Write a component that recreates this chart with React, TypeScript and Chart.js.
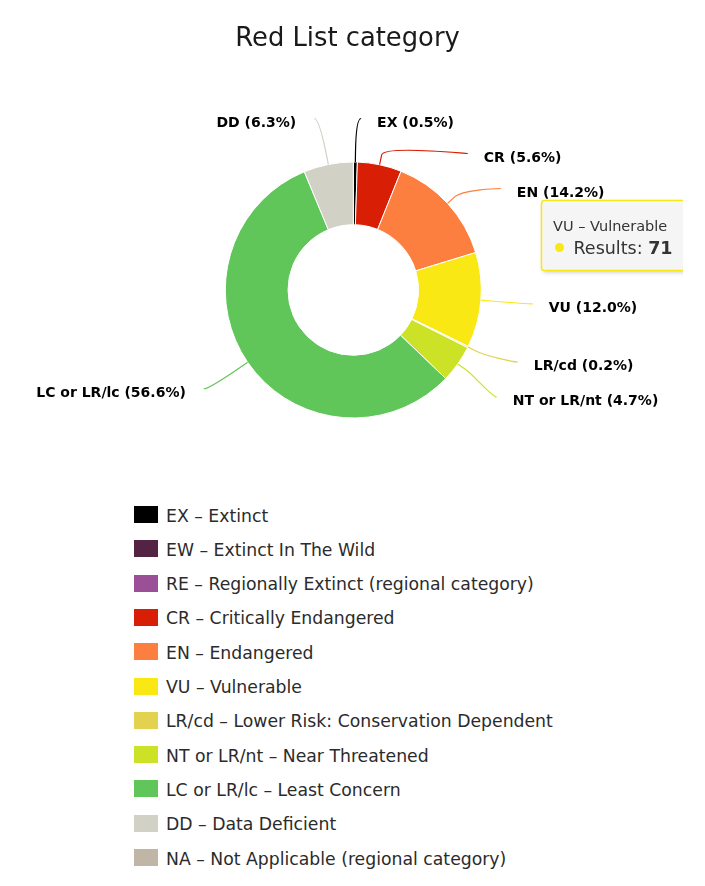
import React, { useEffect, useRef } from "react";
import { Chart, ArcElement, DoughnutController } from "chart.js";

Chart.register(ArcElement, DoughnutController);

const chartTitle = "Red List category";
const seriesName = "Results";
const categoryCodes = ["EX", "EW", "RE", "CR", "EN", "VU", "LR/cd", "NT or LR/nt", "LC or LR/lc", "DD", "NA"];
const categoryNames = [
  "Extinct",
  "Extinct In The Wild",
  "Regionally Extinct (regional category)",
  "Critically Endangered",
  "Endangered",
  "Vulnerable",
  "Lower Risk: Conservation Dependent",
  "Near Threatened",
  "Least Concern",
  "Data Deficient",
  "Not Applicable (regional category)",
];
const results = [3, 0, 0, 33, 84, 71, 1, 28, 335, 37, 0];
const categoryColors = ["#000000", "#542344", "#9b4f96", "#d81e05", "#fc7f3f", "#f9e814", "#e2d24f", "#cce226", "#60c659", "#d1d1c6", "#c1b5a5"];
const highlightedIndex = 5;

const FONT = "'DejaVu Sans', Verdana, sans-serif";
const LABEL_DISTANCE = 47;
const SLOT = 35;

type Box = { target: number; size: number; pos: number; idx: number; atEdge?: boolean };

function distribute(boxes: Box[], min: number, max: number) {
  let groups = boxes.map((b) => ({ boxes: [b], size: b.size, pos: b.target - b.size / 2 }));
  let overlapping = true;
  let guard = 0;
  while (overlapping && guard++ < 100) {
    groups.forEach((g) => {
      g.pos = Math.min(Math.max(min, g.pos), max - g.size);
    });
    overlapping = false;
    for (let i = groups.length - 1; i > 0; i--) {
      const prev = groups[i - 1];
      const cur = groups[i];
      if (prev.pos + prev.size > cur.pos + 0.001) {
        prev.boxes.push(...cur.boxes);
        prev.size += cur.size;
        const mean = prev.boxes.reduce((s, b) => s + b.target, 0) / prev.boxes.length;
        prev.pos = mean - prev.size / 2;
        groups.splice(i, 1);
        overlapping = true;
      }
    }
  }
  groups.forEach((g) => {
    let p = g.pos;
    g.boxes.forEach((b, k) => {
      b.pos = p + b.size / 2;
      b.atEdge = (k === 0 && Math.abs(g.pos - min) < 0.5) || (k === g.boxes.length - 1 && Math.abs(g.pos + g.size - max) < 0.5);
      p += b.size;
    });
  });
}

const titlePlugin = {
  id: "titleText",
  afterDraw(chart: any) {
    const ctx = chart.ctx;
    ctx.save();
    ctx.font = `25.8px ${FONT}`;
    ctx.fillStyle = "#1a1a1a";
    ctx.textAlign = "center";
    ctx.textBaseline = "alphabetic";
    ctx.fillText(chartTitle, chart.width / 2, 37.7);
    ctx.restore();
  },
};

const labelPlugin = {
  id: "pieLabels",
  afterDatasetsDraw(chart: any) {
    const meta = chart.getDatasetMeta(0);
    const ctx = chart.ctx;
    const data = chart.data.datasets[0].data as number[];
    const colors = chart.data.datasets[0].backgroundColor as string[];
    const total = data.reduce((a, b) => a + b, 0);
    const items: any[] = [];
    meta.data.forEach((el: any, i: number) => {
      if (!data[i]) return;
      const p = el.getProps(["x", "y", "startAngle", "endAngle", "outerRadius"], true);
      const mid = (p.startAngle + p.endAngle) / 2;
      const cos = Math.cos(mid);
      const sin = Math.sin(mid);
      const R = p.outerRadius + LABEL_DISTANCE;
      items.push({ i, cx: p.x, cy: p.y, r: p.outerRadius, R, cos, sin, left: cos < 0, target: p.y + R * sin });
    });
    if (!items.length) return;
    const cy = items[0].cy;
    const R = items[0].R;
    const min = cy - R - 14;
    const max = cy + R + 14;
    [true, false].forEach((side) => {
      const list = items.filter((it) => it.left === side).sort((a, b) => a.target - b.target);
      const boxes: Box[] = list.map((it, k) => ({ target: it.target, size: SLOT, pos: 0, idx: k }));
      distribute(boxes, min, max);
      boxes.forEach((b, k) => {
        list[k].y = b.pos;
        list[k].atEdge = b.atEdge;
      });
    });
    ctx.save();
    items.forEach((it) => {
      const sign = it.left ? -1 : 1;
      let x: number;
      if (it.atEdge) {
        x = it.cx + it.R * it.cos + sign * 5;
      } else {
        const dy = Math.max(-it.R, Math.min(it.R, it.y - it.cy));
        x = it.cx + sign * (Math.sqrt(it.R * it.R - dy * dy) + 5);
      }
      const y = it.y;
      const tx = it.cx + it.r * it.cos;
      const ty = it.cy + it.r * it.sin;
      const bx = it.cx + (it.r + 10) * it.cos;
      const by = it.cy + (it.r + 10) * it.sin;
      ctx.beginPath();
      ctx.moveTo(x, y);
      ctx.bezierCurveTo(x - sign * 5, y, 2 * bx - tx, 2 * by - ty, bx, by);
      ctx.lineTo(tx, ty);
      ctx.strokeStyle = colors[it.i];
      ctx.lineWidth = 1.2;
      ctx.stroke();

      const pct = ((data[it.i] / total) * 100).toFixed(1);
      const text = `${categoryCodes[it.i]} (${pct}%)`;
      ctx.font = `bold 14px ${FONT}`;
      ctx.fillStyle = "#000000";
      ctx.textBaseline = "alphabetic";
      ctx.textAlign = it.left ? "right" : "left";
      ctx.fillText(text, x + (it.left ? -18 : 16), y + 8);
    });
    ctx.restore();
  },
};

function roundRectPath(ctx: CanvasRenderingContext2D, x: number, y: number, w: number, h: number, r: number) {
  ctx.beginPath();
  ctx.moveTo(x + r, y);
  ctx.lineTo(x + w - r, y);
  ctx.arcTo(x + w, y, x + w, y + r, r);
  ctx.lineTo(x + w, y + h - r);
  ctx.arcTo(x + w, y + h, x + w - r, y + h, r);
  ctx.lineTo(x + r, y + h);
  ctx.arcTo(x, y + h, x, y + h - r, r);
  ctx.lineTo(x, y + r);
  ctx.arcTo(x, y, x + r, y, r);
  ctx.closePath();
}

const tooltipPlugin = {
  id: "staticTooltip",
  afterDraw(chart: any) {
    const el = chart.getDatasetMeta(0).data[highlightedIndex];
    if (!el) return;
    const p = el.tooltipPosition(true);
    const left = Math.round(p.x + 91.5) + 0.5;
    const top = Math.round(p.y - 97.7) + 0.5;
    const w = 170;
    const h = 70;
    const ctx = chart.ctx as CanvasRenderingContext2D;
    const color = categoryColors[highlightedIndex];
    ctx.save();
    ctx.beginPath();
    ctx.rect(0, 0, chart.width - 4, chart.height);
    ctx.clip();
    ctx.shadowColor = "rgba(0,0,0,0.2)";
    ctx.shadowBlur = 4;
    ctx.shadowOffsetX = 1;
    ctx.shadowOffsetY = 2;
    roundRectPath(ctx, left, top, w, h, 3);
    ctx.fillStyle = "rgba(247,247,247,0.95)";
    ctx.fill();
    ctx.shadowColor = "transparent";
    ctx.lineWidth = 1.5;
    ctx.strokeStyle = color;
    ctx.stroke();

    ctx.fillStyle = "#333333";
    ctx.textAlign = "left";
    ctx.textBaseline = "alphabetic";
    ctx.font = `14.5px ${FONT}`;
    ctx.fillText(`${categoryCodes[highlightedIndex]} \u2013 ${categoryNames[highlightedIndex]}`, left + 11.5, top + 30);

    ctx.beginPath();
    ctx.arc(left + 18, top + 47, 4.5, 0, Math.PI * 2);
    ctx.fillStyle = color;
    ctx.fill();

    ctx.fillStyle = "#333333";
    ctx.font = `17.5px ${FONT}`;
    const label = `${seriesName}: `;
    ctx.fillText(label, left + 32, top + 53);
    const lw = ctx.measureText(label).width;
    ctx.font = `bold 17.5px ${FONT}`;
    ctx.fillText(String(results[highlightedIndex]), left + 32 + lw, top + 53);
    ctx.restore();
  },
};

export default function App() {
  const canvasRef = useRef<HTMLCanvasElement | null>(null);

  useEffect(() => {
    if (!canvasRef.current) return;
    const chart = new Chart(canvasRef.current, {
      type: "doughnut",
      data: {
        labels: categoryCodes.map((c, i) => `${c} \u2013 ${categoryNames[i]}`),
        datasets: [
          {
            data: results,
            backgroundColor: categoryColors,
            borderColor: "#ffffff",
            borderWidth: 1,
          },
        ],
      },
      options: {
        responsive: false,
        animation: false,
        events: [],
        radius: 128,
        cutout: "51%",
        layout: { padding: { left: 130, right: 118.4, top: 140, bottom: 56 } },
      } as any,
      plugins: [labelPlugin, titlePlugin, tooltipPlugin],
    });
    return () => chart.destroy();
  }, []);

  return (
    <div style={{ position: "relative", width: 679, height: 870, fontFamily: FONT }}>
      <canvas ref={canvasRef} width={679} height={480} style={{ display: "block", width: 679, height: 480 }} />
      <div style={{ position: "absolute", left: 126, top: 498 }}>
        {categoryCodes.map((code, i) => (
          <div key={code} style={{ position: "absolute", left: 0, top: i * 34.3, height: 17, whiteSpace: "nowrap", display: "flex" }}>
            <span style={{ display: "inline-block", width: 24, height: 17, background: categoryColors[i], flex: "none" }} />
            <span style={{ marginLeft: 8, fontSize: 17.25, lineHeight: "17px", color: "#2b2b2b", position: "relative", top: 1.6 }}>
              {`${code} \u2013 ${categoryNames[i]}`}
            </span>
          </div>
        ))}
      </div>
    </div>
  );
}
